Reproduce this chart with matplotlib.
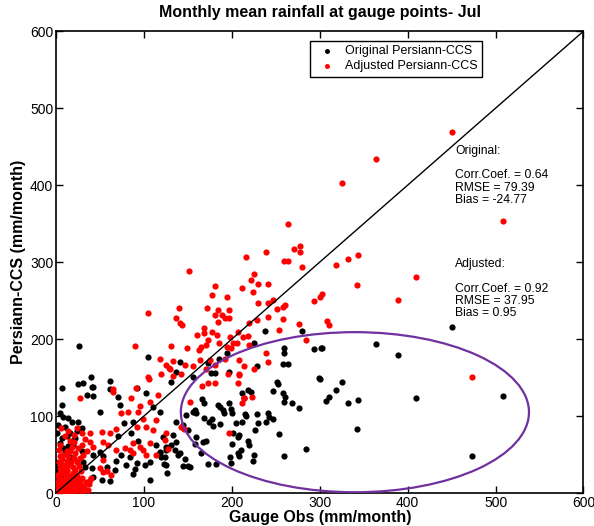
import numpy as np
import matplotlib.pyplot as plt
from matplotlib.patches import Ellipse

plt.rcParams['font.family'] = ['Liberation Sans', 'DejaVu Sans']

# gauge obs vs original Persiann-CCS (mm/month)
orig_pts = [
    (451, 216), (301.6, 188), (363.6, 193.5), (388.5, 178.8), (300.5, 148), (325.8, 143.7),
    (318, 134), (310.7, 124.3), (307.6, 119.9), (332.6, 117.3), (343.9, 120.8), (409.7, 123.4),
    (508.3, 125.6), (342.8, 82.7), (472.8, 48.4),
    (251, 144.6), (252, 141), (246.4, 132.5), (258.5, 130.3), (260.8, 125), (269, 116.5),
    (275.9, 110.8), (259.6, 118.6), (218, 133.8), (222, 131), (211.7, 130.3), (214.3, 123.8),
    (166.3, 121.6), (168.9, 117.3), (184, 114.3), (186.7, 111.3), (189.7, 107.8), (197.3, 117.3),
    (199.2, 109), (191.6, 103.5), (200.3, 104.3), (157.6, 107.8), (159.5, 104.3), (168.9, 97),
    (173.8, 92.6), (177.6, 95.7), (178.3, 87), (186, 89.6), (215.4, 102.2), (216.2, 100),
    (211.7, 92.6), (204.9, 91.3), (228.3, 102.2), (230.2, 90.5), (240.7, 103.5), (242.6, 99.1),
    (238.9, 92.6), (246.4, 95.7), (201, 78.3), (206.7, 73.1), (208.6, 75.3), (200.3, 63.6),
    (226.8, 81.8), (218, 67.9), (220, 62.3), (210.5, 55.8), (206.7, 52.3), (208.6, 48),
    (225.6, 49.4), (223.7, 42), (198.4, 47.2), (199.2, 38.5), (182.2, 37.7), (172.7, 37.7),
    (254, 76.6), (258.9, 48), (284.2, 56.7), (167, 66.6), (170.8, 67.5), (159.5, 73.1),
    (157.6, 63.6), (165.2, 52.3), (146.3, 43.7), (150, 35), (151.9, 34.2), (144.3, 35),
    (138.7, 49.4), (141.4, 52.3), (134.9, 55.8), (131.2, 62.3), (136.8, 66.6), (125.5, 60.1),
    (124.7, 55.8), (117.9, 51.6), (119.8, 47.2), (126.2, 25.6), (122.4, 37.7), (125.5, 36.4),
    (121.7, 73.1), (133, 75.3), (155.7, 105.6), (148.2, 101.3), (136.8, 92.6), (144.3, 88.3),
    (150, 81.8),
    (104.7, 177), (136.1, 157.5), (185.2, 173.6), (172.7, 168.4), (194.2, 181.4), (225.6, 194.4),
    (238.1, 210.8), (279.7, 210.8), (259.6, 187.9), (258.9, 181.4), (257.7, 167.5), (263.4, 167.5),
    (228.2, 164.9), (197.3, 157.5), (180.3, 156.3), (176, 156), (293.7, 186.6), (302.4, 187.9),
    (299.3, 148.9), (155.7, 151), (140.6, 170.5), (131.2, 144.6),
    (6.4, 114.3), (8.3, 99.1), (14, 97), (25.3, 92.6), (29.1, 84), (23.4, 81), (0.8, 77.5),
    (6.4, 71), (12.1, 74), (15.9, 77.5), (17.8, 67.9), (21.5, 71), (19.6, 62.3), (14, 61),
    (8.3, 58), (4.5, 65.3), (10.2, 51.6), (15.9, 47.2), (0.5, 40.7), (1, 32.1), (2.6, 25.6),
    (31, 143.3), (40.4, 138), (34.8, 127.3), (42.3, 126), (49.9, 105.6), (61.2, 134.7),
    (70.7, 124.3), (73.3, 114.3), (92.2, 136), (102.8, 129.4), (110.3, 112.1), (117.9, 105.6),
    (87.7, 92.6), (77.1, 90.5), (70.7, 74), (85.8, 77.5), (93.3, 67.9), (83.9, 46.4),
    (74.4, 49.4), (68.8, 42), (80.1, 36.4), (92.2, 39.4), (100.9, 36.4), (106.6, 40.7),
    (89.6, 30.7), (87.7, 24.7), (66.9, 29.9), (58.2, 33.3), (114.1, 62.3), (117.9, 53.7),
    (123.6, 46.4), (106.6, 16.9), (29.1, 55), (42.3, 49.4), (49.9, 53.7), (53.7, 48),
    (31, 40.7), (32.9, 33.3), (40.4, 32.1), (42.3, 21.2), (61.2, 16), (51.8, 16.9),
    (26.4, 191.3), (6.4, 136.8), (25.3, 141.6), (39.3, 151), (61.2, 145.8), (41.6, 137.3),
    (2, 88), (5, 104), (10, 86), (18, 92), (3, 12), (6, 20), (10, 30), (4, 6), (12, 16), (20, 24),
]

# gauge obs vs adjusted Persiann-CCS (mm/month)
adj_pts = [
    (451, 469), (363.6, 434), (325.7, 403), (508.7, 354), (277.8, 321), (277.8, 312.6),
    (279.7, 294), (318, 296.5), (332.6, 304), (344, 309), (409.7, 281), (342.8, 270.5),
    (293.6, 249.7), (300, 254.5), (302, 258), (388.5, 250.6), (308, 223.8), (311, 217.8),
    (472.8, 150.6),
    (263.4, 349.4), (151.2, 288.7), (216.2, 306.9), (238.9, 313.4), (270.2, 316.5), (258.9, 301.7),
    (263.4, 301.3), (225.6, 284.4), (221.9, 276.6), (229.4, 271), (240.7, 271), (211.3, 265.8),
    (223.7, 260.8), (181.4, 268.8), (177.6, 257.1), (194.7, 255), (104.7, 233.4), (139.8, 239.9),
    (136.1, 226.8), (141.4, 220.3), (143.6, 217.8), (172, 239.9), (184.8, 237.7), (196.5, 237.7),
    (180.3, 231.2), (189, 231.2), (184.8, 222.5), (192.7, 226.8), (197.3, 226.8), (229.4, 246.3),
    (240.7, 246.3), (246.4, 250.6), (250.9, 238.6), (257.7, 241.2), (260.4, 243.7), (258.5, 225.6),
    (240.7, 228.2), (228.2, 224.7), (220, 220.3), (207.1, 208.7), (213.2, 203), (218.8, 203.9),
    (253.2, 211.7), (276.6, 219.5), (284.2, 198.7), (167.8, 213.9), (160.2, 205.2), (168.9, 207.4),
    (177.6, 209.5), (183.3, 205.2), (172.7, 198.7), (185.2, 194.4), (198, 202.2), (201, 195.2),
    (205.6, 195.2), (194.2, 189.2), (199.2, 187.9), (220, 192.2), (131.2, 190.9),
    (149.3, 187.9), (162.5, 185.7), (165.2, 190), (170.9, 192.2), (118.7, 173.6), (125.5, 166.2),
    (133, 171.8), (129.3, 161), (146.3, 166.2), (155.7, 164.9), (163.3, 172.7), (174.6, 172.7),
    (170.1, 160.6), (181.4, 166.2), (192.7, 173.6), (207.8, 172.7), (214.3, 165.3), (225.6, 160.6),
    (238.9, 181.4), (240.7, 170.5), (208.6, 154.5), (195.4, 154.5), (142.5, 154.5), (133, 151.9),
    (119.8, 154.5), (104.7, 151),
    (90.3, 191.3), (128, 162), (105.4, 147.6), (65, 134.7), (90.7, 136),
    (208.6, 153), (206.7, 143.3), (223, 125), (214.3, 123.4), (211.7, 116.5), (172.7, 142.4),
    (180.3, 142.4), (166.3, 139), (151.9, 118.6), (127.3, 56.7), (197.3, 77.5), (142.5, 86.1),
    (145.1, 82.7),
    (27.2, 123), (65, 131.6), (85.8, 123), (95.2, 113), (106.6, 118.6), (116, 127.3),
    (74.4, 103.5), (82, 105.6), (93.3, 105.6), (51.8, 79.6), (61.2, 77.5), (68.8, 82.7),
    (38.5, 77.5), (38.5, 66.6), (42.3, 60.1), (53.7, 66.6), (59.3, 62.3), (53.7, 42.9),
    (68.8, 55.8), (78.2, 58), (83.9, 55.8), (87.7, 51.6), (87.7, 64.5), (95.2, 60.1),
    (99, 55.8), (102.8, 49.4), (106.6, 64.5), (114.1, 49.4), (123.6, 68.8), (125.5, 77.5),
    (110.3, 81.8), (102.8, 86.1), (92.2, 86.1), (99, 95.7), (114.1, 94.8), (49.9, 32.1),
    (53.7, 27.7), (58.2, 29), (62, 23.4), (38.5, 16.9), (29.1, 1.7),
    # dense cluster near the origin
    (1, 2), (2, 5), (3, 1), (4, 8), (5, 3), (6, 12), (7, 6), (8, 2), (9, 10), (10, 15),
    (11, 4), (12, 8), (13, 18), (14, 12), (15, 6), (16, 22), (17, 14), (18, 9), (19, 26), (20, 18),
    (21, 3), (22, 30), (23, 12), (24, 22), (25, 8), (26, 35), (27, 16), (28, 28), (29, 5), (30, 20),
    (2, 14), (3, 20), (4, 26), (5, 32), (6, 38), (7, 44), (8, 50), (3, 56), (5, 62), (9, 30),
    (10, 36), (11, 24), (12, 42), (13, 30), (14, 48), (15, 36), (16, 54), (17, 40), (18, 60), (19, 34),
    (20, 46), (21, 66), (22, 52), (24, 40), (25, 58), (27, 45), (29, 62), (31, 50), (33, 70), (35, 55),
    (1, 10), (2, 24), (3, 40), (4, 48), (6, 18), (8, 26), (10, 6), (12, 28), (14, 2), (16, 4),
    (18, 16), (20, 10), (22, 20), (24, 4), (26, 14), (28, 10), (30, 2), (32, 8), (34, 14), (36, 4),
    (38, 12), (40, 20), (12, 54), (16, 68), (10, 74), (14, 80), (6, 84), (20, 76), (24, 84), (30, 78),
]

stats_orig = ['Corr.Coef. = 0.64', 'RMSE = 79.39', 'Bias = -24.77']
stats_adj = ['Corr.Coef. = 0.92', 'RMSE = 37.95', 'Bias = 0.95']

orig = np.array(orig_pts)
adj = np.array(adj_pts)

fig = plt.figure(figsize=(5.94, 5.26), dpi=100)
ax = fig.add_axes([0.0943, 0.0627, 0.888, 0.878])

ax.scatter(orig[:, 0], orig[:, 1], s=20, c='black', linewidths=0, label='Original Persiann-CCS', zorder=3)
ax.scatter(adj[:, 0], adj[:, 1], s=20, c='#ff0000', linewidths=0, label='Adjusted Persiann-CCS', zorder=3)
ax.plot([0, 600], [0, 600], color='black', lw=1, zorder=4)

ell = Ellipse((340, 105), 396, 208, fill=False, edgecolor='#7030a0', lw=1.6, zorder=5)
ax.add_patch(ell)

ax.set_xlim(0, 600)
ax.set_ylim(0, 600)
ax.set_xticks(range(0, 601, 100))
ax.set_yticks(range(0, 601, 100))
ax.tick_params(direction='in', length=5, width=1, top=True, right=True, labelsize=10, pad=2)
for sp in ax.spines.values():
    sp.set_linewidth(1.2)

ax.set_title('Monthly mean rainfall at gauge points- Jul', fontsize=11.5, fontweight='bold', pad=10)
ax.set_xlabel('Gauge Obs (mm/month)', fontsize=11.5, fontweight='bold', labelpad=0)
ax.set_ylabel('Persiann-CCS (mm/month)', fontsize=11.5, fontweight='bold', labelpad=3)

fs = 8.7
ax.text(454, 444, 'Original:', fontsize=fs, va='center')
for i, s in enumerate(stats_orig):
    ax.text(454, 412.6 - i * 16, s, fontsize=fs, va='center')
ax.text(454, 297.4, 'Adjusted:', fontsize=fs, va='center')
for i, s in enumerate(stats_adj):
    ax.text(454, 265.3 - i * 16, s, fontsize=fs, va='center')

leg = ax.legend(loc='upper left', bbox_to_anchor=(0.481, 0.979), fontsize=9, scatterpoints=1,
                markerscale=0.8, fancybox=False, framealpha=1, edgecolor='black',
                borderpad=0.35, handletextpad=0.5, labelspacing=0.25, borderaxespad=0)
leg.get_frame().set_linewidth(1)

fig.savefig('out.png', dpi=100)
